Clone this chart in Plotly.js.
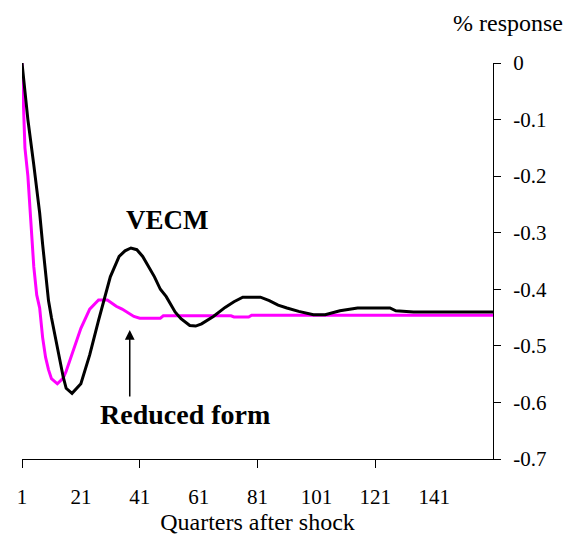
<!DOCTYPE html>
<html>
<head>
<meta charset="utf-8">
<script src="https://cdn.plot.ly/plotly-3.0.1.min.js"></script>
<style>html,body{margin:0;padding:0;background:#fff;}#chart{width:574px;height:539px;}</style>
</head>
<body>
<div id="chart"></div>
<script>
// VECM impulse response (black)
var vecmQuarters = [1,3,5,7,8,10,11,13,15,16,18,21,24,27,31,34,36,38,40,42,44,46,48,50,53,55,58,60,62,66,70,73,76,79,82,85,88,91,95,100,104,109,112,115,126,128,134,161];
var vecmResponse = [0,-0.10,-0.18,-0.265,-0.32,-0.42,-0.45,-0.505,-0.555,-0.575,-0.584,-0.567,-0.516,-0.455,-0.378,-0.342,-0.332,-0.327,-0.330,-0.342,-0.360,-0.378,-0.400,-0.413,-0.440,-0.452,-0.464,-0.465,-0.461,-0.448,-0.432,-0.422,-0.414,-0.414,-0.414,-0.420,-0.428,-0.433,-0.439,-0.445,-0.445,-0.438,-0.436,-0.433,-0.433,-0.438,-0.440,-0.440];

// Reduced form impulse response (magenta)
var rfQuarters = [1,2,3,4,5,6,7,8,9,10,11,13,15,16,18,21,24,27,30,33,35,37,39,41,45,48,49,72,73,78,79,161];
var rfResponse = [0,-0.15,-0.20,-0.28,-0.36,-0.41,-0.433,-0.485,-0.52,-0.542,-0.558,-0.567,-0.557,-0.545,-0.515,-0.469,-0.435,-0.419,-0.419,-0.430,-0.435,-0.442,-0.448,-0.451,-0.451,-0.451,-0.447,-0.447,-0.449,-0.449,-0.446,-0.446];

var xLabelVals = [1,21,41,61,81,101,121,141];
var xLabelText = ["1","21","41","61","81","101","121","141"];
var xMarkVals = [1,41,81,121];
var yTickVals = [0,-0.1,-0.2,-0.3,-0.4,-0.5,-0.6,-0.7];
var yTickText = ["0","-0.1","-0.2","-0.3","-0.4","-0.5","-0.6","-0.7"];

var FONT = "'Liberation Serif', 'Times New Roman', serif";

var traces = [
  {x: rfQuarters, y: rfResponse, type: 'scatter', mode: 'lines', name: 'Reduced form',
   xaxis: 'x', yaxis: 'y', line: {color: '#FF00FF', width: 3}},
  {x: vecmQuarters, y: vecmResponse, type: 'scatter', mode: 'lines', name: 'VECM',
   xaxis: 'x2', yaxis: 'y', line: {color: '#000000', width: 3}}
];

var layout = {
  width: 574, height: 539,
  margin: {l: 22, r: 81, t: 63, b: 80},
  paper_bgcolor: '#fff', plot_bgcolor: '#fff',
  showlegend: false,
  font: {family: FONT, color: '#000', size: 21},
  xaxis: {
    range: [1, 161], tickmode: 'array', tickvals: xLabelVals, ticktext: xLabelText,
    ticks: '', showline: true, linecolor: '#000', linewidth: 1, showgrid: false, zeroline: false,
    tickfont: {family: FONT, size: 21, color: '#000'}, ticklabelstandoff: 19,
    title: {text: 'Quarters after shock', font: {family: FONT, size: 24, color: '#000'}, standoff: 0}
  },
  xaxis2: {
    range: [1, 161], overlaying: 'x', anchor: 'y', side: 'bottom',
    tickmode: 'array', tickvals: xMarkVals, ticks: 'outside', ticklen: 8, tickwidth: 1, tickcolor: '#000',
    showticklabels: false, showline: false, showgrid: false, zeroline: false
  },
  yaxis: {
    range: [-0.7, 0], side: 'right', tickmode: 'array', tickvals: yTickVals, ticktext: yTickText,
    ticks: 'outside', ticklen: 7, tickwidth: 1, tickcolor: '#000',
    showline: true, linecolor: '#000', linewidth: 1, showgrid: false, zeroline: false,
    tickfont: {family: FONT, size: 21, color: '#000'}, ticklabelstandoff: 8
  },
  annotations: [
    {text: '% response', xref: 'paper', yref: 'paper', x: 1.032, y: 1.10, xanchor: 'center', yanchor: 'middle',
     showarrow: false, font: {family: FONT, size: 24, color: '#000'}},
    {text: '<b>VECM</b>', xref: 'x', yref: 'y', x: 50.5, y: -0.277, xanchor: 'center', yanchor: 'middle',
     showarrow: false, font: {family: FONT, size: 27, color: '#000'}},
    {text: '<b>Reduced form</b>', xref: 'x', yref: 'y', x: 56.3, y: -0.622, xanchor: 'center', yanchor: 'middle',
     showarrow: false, font: {family: FONT, size: 28, color: '#000'}},
    {text: '', xref: 'x', yref: 'y', x: 37.6, y: -0.472, axref: 'x', ayref: 'y', ax: 37.6, ay: -0.592,
     showarrow: true, arrowhead: 2, arrowsize: 1.3, arrowwidth: 1.5, arrowcolor: '#000'}
  ]
};

Plotly.newPlot('chart', traces, layout, {staticPlot: true, displayModeBar: false});
</script>
</body>
</html>
